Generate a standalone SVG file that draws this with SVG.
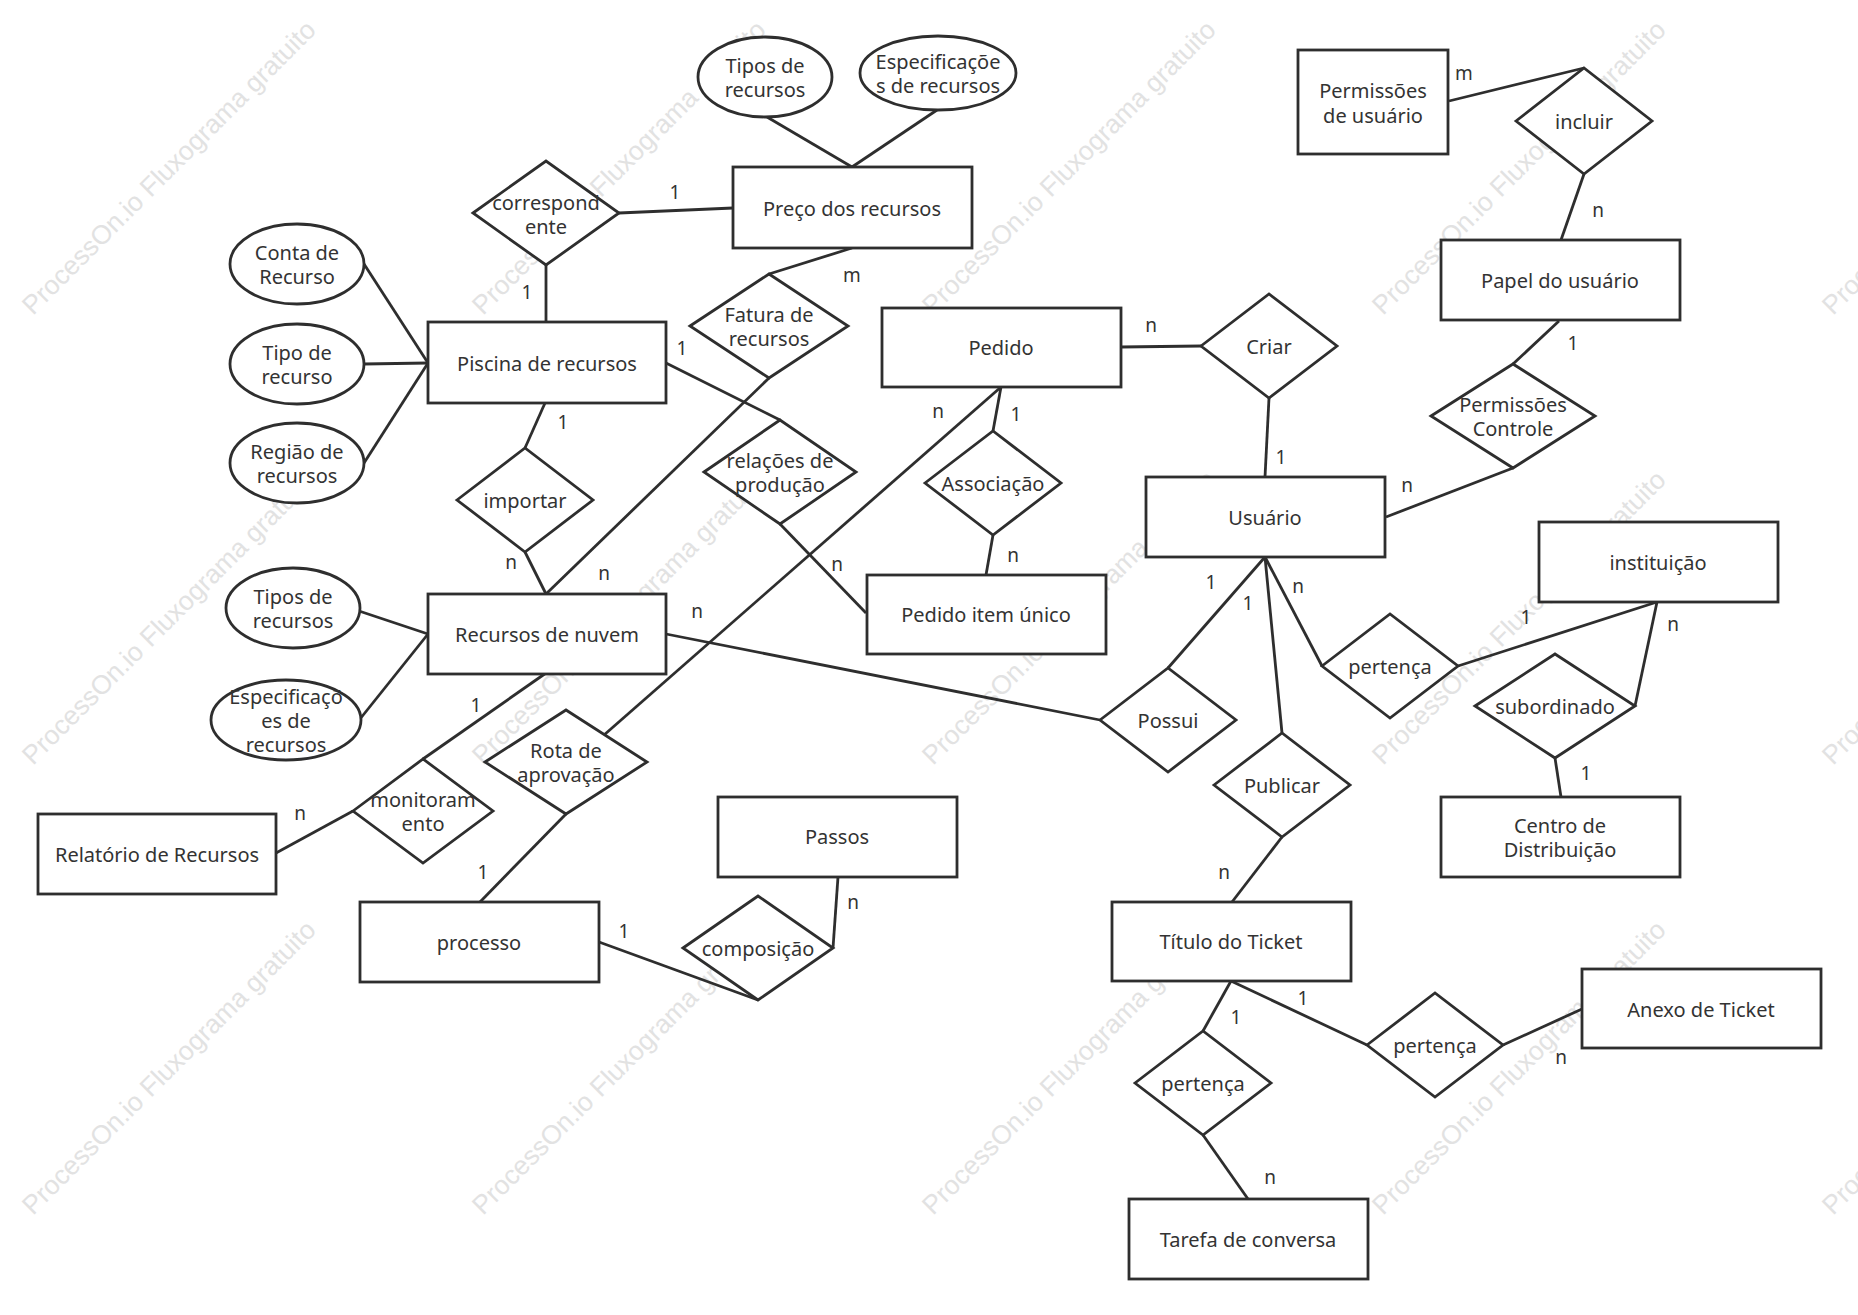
<svg xmlns="http://www.w3.org/2000/svg" width="1858" height="1315" viewBox="0 0 1858 1315">
<style>
.bg{fill:#ffffff}
.ent,.rel,.attr{fill:#ffffff;stroke:#2e2e2e;stroke-width:2.8}
.c line{stroke:#2e2e2e;stroke-width:2.8;fill:none}
.t{font-family:"Noto Sans","DejaVu Sans",sans-serif;font-size:20px;fill:#333333;text-anchor:middle;dominant-baseline:central}
.lbl{font-family:"Noto Sans","DejaVu Sans",sans-serif;font-size:19px;fill:#333333;text-anchor:middle;dominant-baseline:central}
.wm{font-family:"Liberation Sans",Arial,sans-serif;font-size:26.5px;fill:#e2e2e2}
</style>
<rect class="bg" x="0" y="0" width="1858" height="1315"/>

<g id="watermark" class="wm">
<text x="33" y="316" transform="rotate(-45 33 316)">ProcessOn.io Fluxograma gratuito</text>
<text x="483" y="316" transform="rotate(-45 483 316)">ProcessOn.io Fluxograma gratuito</text>
<text x="933" y="316" transform="rotate(-45 933 316)">ProcessOn.io Fluxograma gratuito</text>
<text x="1383" y="316" transform="rotate(-45 1383 316)">ProcessOn.io Fluxograma gratuito</text>
<text x="1833" y="316" transform="rotate(-45 1833 316)">ProcessOn.io Fluxograma gratuito</text>
<text x="33" y="766" transform="rotate(-45 33 766)">ProcessOn.io Fluxograma gratuito</text>
<text x="483" y="766" transform="rotate(-45 483 766)">ProcessOn.io Fluxograma gratuito</text>
<text x="933" y="766" transform="rotate(-45 933 766)">ProcessOn.io Fluxograma gratuito</text>
<text x="1383" y="766" transform="rotate(-45 1383 766)">ProcessOn.io Fluxograma gratuito</text>
<text x="1833" y="766" transform="rotate(-45 1833 766)">ProcessOn.io Fluxograma gratuito</text>
<text x="33" y="1216" transform="rotate(-45 33 1216)">ProcessOn.io Fluxograma gratuito</text>
<text x="483" y="1216" transform="rotate(-45 483 1216)">ProcessOn.io Fluxograma gratuito</text>
<text x="933" y="1216" transform="rotate(-45 933 1216)">ProcessOn.io Fluxograma gratuito</text>
<text x="1383" y="1216" transform="rotate(-45 1383 1216)">ProcessOn.io Fluxograma gratuito</text>
<text x="1833" y="1216" transform="rotate(-45 1833 1216)">ProcessOn.io Fluxograma gratuito</text>
</g>

<g id="connectors" class="c">
<line x1="767" y1="117" x2="852" y2="167"/>
<line x1="937" y1="110" x2="852" y2="167"/>
<line x1="619" y1="213" x2="733" y2="208"/>
<line x1="546" y1="265" x2="546" y2="322"/>
<line x1="364" y1="264" x2="428" y2="363"/>
<line x1="364" y1="364" x2="428" y2="363"/>
<line x1="364" y1="463" x2="428" y2="363"/>
<line x1="545" y1="403" x2="525" y2="448"/>
<line x1="525" y1="552" x2="546" y2="594"/>
<line x1="769" y1="274" x2="852" y2="248"/>
<line x1="769" y1="378" x2="546" y2="594"/>
<line x1="666" y1="363" x2="780" y2="420"/>
<line x1="780" y1="524" x2="866" y2="613"/>
<line x1="1001" y1="387" x2="604" y2="735"/>
<line x1="1001" y1="387" x2="993" y2="431"/>
<line x1="993" y1="535" x2="986" y2="575"/>
<line x1="1121" y1="347" x2="1201" y2="346"/>
<line x1="1269" y1="398" x2="1265" y2="477"/>
<line x1="1559" y1="321" x2="1513" y2="364"/>
<line x1="1513" y1="468" x2="1386" y2="517"/>
<line x1="1449" y1="101" x2="1584" y2="68"/>
<line x1="1584" y1="174" x2="1561" y2="240"/>
<line x1="1265" y1="557" x2="1322" y2="666"/>
<line x1="1265" y1="557" x2="1282" y2="733"/>
<line x1="1265" y1="557" x2="1168" y2="668"/>
<line x1="1657" y1="602" x2="1458" y2="666"/>
<line x1="1657" y1="602" x2="1635" y2="706"/>
<line x1="1555" y1="758" x2="1561" y2="797"/>
<line x1="1282" y1="837" x2="1232" y2="902"/>
<line x1="666" y1="634" x2="1100" y2="720"/>
<line x1="546" y1="673" x2="423" y2="759"/>
<line x1="353" y1="811" x2="276" y2="853"/>
<line x1="566" y1="814" x2="480" y2="902"/>
<line x1="599" y1="942" x2="758" y2="1000"/>
<line x1="833" y1="948" x2="838" y2="877"/>
<line x1="1231" y1="981" x2="1203" y2="1031"/>
<line x1="1203" y1="1135" x2="1248" y2="1199"/>
<line x1="1231" y1="981" x2="1367" y2="1045"/>
<line x1="1503" y1="1045" x2="1582" y2="1009"/>
<line x1="359" y1="611" x2="428" y2="634"/>
<line x1="360" y1="719" x2="428" y2="634"/>
</g>

<g id="labels">
<text class="lbl" x="675" y="192">1</text>
<text class="lbl" x="527" y="292">1</text>
<text class="lbl" x="852" y="275">m</text>
<text class="lbl" x="563" y="422">1</text>
<text class="lbl" x="511" y="562">n</text>
<text class="lbl" x="604" y="573">n</text>
<text class="lbl" x="682" y="348">1</text>
<text class="lbl" x="837" y="564">n</text>
<text class="lbl" x="938" y="411">n</text>
<text class="lbl" x="1016" y="414">1</text>
<text class="lbl" x="1013" y="555">n</text>
<text class="lbl" x="1151" y="325">n</text>
<text class="lbl" x="1281" y="457">1</text>
<text class="lbl" x="1573" y="343">1</text>
<text class="lbl" x="1407" y="485">n</text>
<text class="lbl" x="1464" y="73">m</text>
<text class="lbl" x="1598" y="210">n</text>
<text class="lbl" x="1298" y="586">n</text>
<text class="lbl" x="1211" y="582">1</text>
<text class="lbl" x="1248" y="603">1</text>
<text class="lbl" x="1526" y="617">1</text>
<text class="lbl" x="1673" y="624">n</text>
<text class="lbl" x="1586" y="773">1</text>
<text class="lbl" x="1224" y="872">n</text>
<text class="lbl" x="697" y="611">n</text>
<text class="lbl" x="476" y="705">1</text>
<text class="lbl" x="300" y="813">n</text>
<text class="lbl" x="483" y="872">1</text>
<text class="lbl" x="624" y="931">1</text>
<text class="lbl" x="853" y="902">n</text>
<text class="lbl" x="1236" y="1017">1</text>
<text class="lbl" x="1270" y="1177">n</text>
<text class="lbl" x="1303" y="998">1</text>
<text class="lbl" x="1561" y="1057">n</text>
</g>

<!-- entities -->
<g id="preco"><rect class="ent" x="733" y="167" width="239" height="81"/><text class="t" x="852" y="208">Preço dos recursos</text></g>
<g id="piscina"><rect class="ent" x="428" y="322" width="238" height="81"/><text class="t" x="547" y="363">Piscina de recursos</text></g>
<g id="nuvem"><rect class="ent" x="428" y="594" width="238" height="80"/><text class="t" x="547" y="634">Recursos de nuvem</text></g>
<g id="pedido"><rect class="ent" x="882" y="308" width="239" height="79"/><text class="t" x="1001" y="347">Pedido</text></g>
<g id="pedidoitem"><rect class="ent" x="867" y="575" width="239" height="79"/><text class="t" x="986" y="614">Pedido item único</text></g>
<g id="usuario"><rect class="ent" x="1146" y="477" width="239" height="80"/><text class="t" x="1265" y="517">Usuário</text></g>
<g id="permusuario"><rect class="ent" x="1298" y="50" width="150" height="104"/><text class="t" x="1373" y="102"><tspan x="1373" dy="-12">Permissões</tspan><tspan x="1373" dy="25">de usuário</tspan></text></g>
<g id="papel"><rect class="ent" x="1441" y="240" width="239" height="80"/><text class="t" x="1560" y="280">Papel do usuário</text></g>
<g id="instituicao"><rect class="ent" x="1539" y="522" width="239" height="80"/><text class="t" x="1658" y="562">instituição</text></g>
<g id="centro"><rect class="ent" x="1441" y="797" width="239" height="80"/><text class="t" x="1560" y="837"><tspan x="1560" dy="-12">Centro de</tspan><tspan x="1560" dy="24">Distribuição</tspan></text></g>
<g id="relatorio"><rect class="ent" x="38" y="814" width="238" height="80"/><text class="t" x="157" y="854">Relatório de Recursos</text></g>
<g id="processo"><rect class="ent" x="360" y="902" width="239" height="80"/><text class="t" x="479" y="942">processo</text></g>
<g id="passos"><rect class="ent" x="718" y="797" width="239" height="80"/><text class="t" x="837" y="836">Passos</text></g>
<g id="titulo"><rect class="ent" x="1112" y="902" width="239" height="79"/><text class="t" x="1231" y="941">Título do Ticket</text></g>
<g id="anexo"><rect class="ent" x="1582" y="969" width="239" height="79"/><text class="t" x="1701" y="1009">Anexo de Ticket</text></g>
<g id="tarefa"><rect class="ent" x="1129" y="1199" width="239" height="80"/><text class="t" x="1248" y="1239">Tarefa de conversa</text></g>

<!-- attributes -->
<g id="attr-tipos-top"><ellipse class="attr" cx="765" cy="77" rx="67" ry="40"/><text class="t" x="765" y="77"><tspan x="765" dy="-12">Tipos de</tspan><tspan x="765" dy="24">recursos</tspan></text></g>
<g id="attr-espec-top"><ellipse class="attr" cx="938" cy="73" rx="78" ry="37"/><text class="t" x="938" y="73"><tspan x="938" dy="-12">Especificaçõe</tspan><tspan x="938" dy="24">s de recursos</tspan></text></g>
<g id="attr-conta"><ellipse class="attr" cx="297" cy="264" rx="67" ry="40"/><text class="t" x="297" y="264"><tspan x="297" dy="-12">Conta de</tspan><tspan x="297" dy="24">Recurso</tspan></text></g>
<g id="attr-tipo"><ellipse class="attr" cx="297" cy="364" rx="67" ry="40"/><text class="t" x="297" y="364"><tspan x="297" dy="-12">Tipo de</tspan><tspan x="297" dy="24">recurso</tspan></text></g>
<g id="attr-regiao"><ellipse class="attr" cx="297" cy="463" rx="67" ry="40"/><text class="t" x="297" y="463"><tspan x="297" dy="-12">Região de</tspan><tspan x="297" dy="24">recursos</tspan></text></g>
<g id="attr-tipos-left"><ellipse class="attr" cx="293" cy="608" rx="67" ry="40"/><text class="t" x="293" y="608"><tspan x="293" dy="-12">Tipos de</tspan><tspan x="293" dy="24">recursos</tspan></text></g>
<g id="attr-espec-left"><ellipse class="attr" cx="286" cy="720" rx="75" ry="40"/><text class="t" x="286" y="720"><tspan x="286" dy="-24">Especificaçõ</tspan><tspan x="286" dy="24">es de</tspan><tspan x="286" dy="24">recursos</tspan></text></g>

<!-- relationships -->
<g id="rel-correspondente"><polygon class="rel" points="473,213 546,161 619,213 546,265"/><text class="t" x="546" y="213"><tspan x="546" dy="-11">correspond</tspan><tspan x="546" dy="24">ente</tspan></text></g>
<g id="rel-fatura"><polygon class="rel" points="690,326 769,274 848,326 769,378"/><text class="t" x="769" y="326"><tspan x="769" dy="-12">Fatura de</tspan><tspan x="769" dy="24">recursos</tspan></text></g>
<g id="rel-criar"><polygon class="rel" points="1201,346 1269,294 1337,346 1269,398"/><text class="t" x="1269" y="346">Criar</text></g>
<g id="rel-incluir"><polygon class="rel" points="1516,121 1584,68 1652,121 1584,174"/><text class="t" x="1584" y="121">incluir</text></g>
<g id="rel-permctrl"><polygon class="rel" points="1431,416 1513,364 1595,416 1513,468"/><text class="t" x="1513" y="416"><tspan x="1513" dy="-12">Permissões</tspan><tspan x="1513" dy="24">Controle</tspan></text></g>
<g id="rel-importar"><polygon class="rel" points="457,500 525,448 593,500 525,552"/><text class="t" x="525" y="500">importar</text></g>
<g id="rel-relacoes"><polygon class="rel" points="704,472 780,420 856,472 780,524"/><text class="t" x="780" y="472"><tspan x="780" dy="-12">relações de</tspan><tspan x="780" dy="24">produção</tspan></text></g>
<g id="rel-associacao"><polygon class="rel" points="925,483 993,431 1061,483 993,535"/><text class="t" x="993" y="483">Associação</text></g>
<g id="rel-possui"><polygon class="rel" points="1100,720 1168,668 1236,720 1168,772"/><text class="t" x="1168" y="720">Possui</text></g>
<g id="rel-pertenca1"><polygon class="rel" points="1322,666 1390,614 1458,666 1390,718"/><text class="t" x="1390" y="666">pertença</text></g>
<g id="rel-subordinado"><polygon class="rel" points="1475,706 1555,654 1635,706 1555,758"/><text class="t" x="1555" y="706">subordinado</text></g>
<g id="rel-publicar"><polygon class="rel" points="1214,785 1282,733 1350,785 1282,837"/><text class="t" x="1282" y="785">Publicar</text></g>
<g id="rel-rota"><polygon class="rel" points="485,762 566,710 647,762 566,814"/><text class="t" x="566" y="762"><tspan x="566" dy="-12">Rota de</tspan><tspan x="566" dy="24">aprovação</tspan></text></g>
<g id="rel-monitoramento"><polygon class="rel" points="353,811 423,759 493,811 423,863"/><text class="t" x="423" y="811"><tspan x="423" dy="-12">monitoram</tspan><tspan x="423" dy="24">ento</tspan></text></g>
<g id="rel-composicao"><polygon class="rel" points="683,948 758,896 833,948 758,1000"/><text class="t" x="758" y="948">composição</text></g>
<g id="rel-pertenca2"><polygon class="rel" points="1135,1083 1203,1031 1271,1083 1203,1135"/><text class="t" x="1203" y="1083">pertença</text></g>
<g id="rel-pertenca3"><polygon class="rel" points="1367,1045 1435,993 1503,1045 1435,1097"/><text class="t" x="1435" y="1045">pertença</text></g>
</svg>
